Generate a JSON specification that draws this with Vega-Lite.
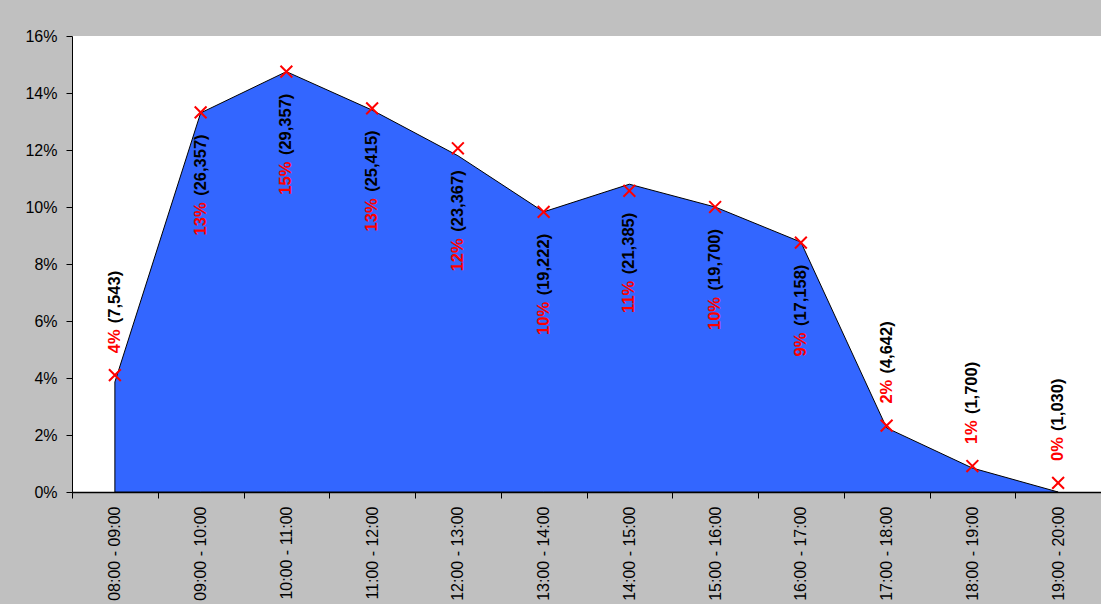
{
  "$schema": "https://vega.github.io/schema/vega-lite/v6.json",
  "width": 1029,
  "height": 456,
  "autosize": {"type": "none"},
  "padding": {"left": 72, "top": 36, "right": 0, "bottom": 112},
  "background": "#C0C0C0",
  "config": {
    "view": {"fill": "white", "stroke": null},
    "font": "Liberation Sans",
    "axis": {"labelFont": "Liberation Sans", "labelFontSize": 16, "labelColor": "black", "domainColor": "black", "tickColor": "black", "grid": false, "title": null}
  },
  "data": {
    "values": [
      {"slot": "08:00 - 09:00", "share": 0.0386, "marker": 0.0410, "pctLabel": "4%", "countLabel": "(7,543)", "side": "above"},
      {"slot": "09:00 - 10:00", "share": 0.1330, "marker": 0.1332, "pctLabel": "13%", "countLabel": "(26,357)", "side": "below"},
      {"slot": "10:00 - 11:00", "share": 0.1475, "marker": 0.1475, "pctLabel": "15%", "countLabel": "(29,357)", "side": "below"},
      {"slot": "11:00 - 12:00", "share": 0.1340, "marker": 0.1346, "pctLabel": "13%", "countLabel": "(25,415)", "side": "below"},
      {"slot": "12:00 - 13:00", "share": 0.1180, "marker": 0.1206, "pctLabel": "12%", "countLabel": "(23,367)", "side": "below"},
      {"slot": "13:00 - 14:00", "share": 0.0983, "marker": 0.0983, "pctLabel": "10%", "countLabel": "(19,222)", "side": "below"},
      {"slot": "14:00 - 15:00", "share": 0.1080, "marker": 0.1057, "pctLabel": "11%", "countLabel": "(21,385)", "side": "below"},
      {"slot": "15:00 - 16:00", "share": 0.1000, "marker": 0.1000, "pctLabel": "10%", "countLabel": "(19,700)", "side": "below"},
      {"slot": "16:00 - 17:00", "share": 0.0877, "marker": 0.0875, "pctLabel": "9%", "countLabel": "(17,158)", "side": "below"},
      {"slot": "17:00 - 18:00", "share": 0.0225, "marker": 0.0233, "pctLabel": "2%", "countLabel": "(4,642)", "side": "above"},
      {"slot": "18:00 - 19:00", "share": 0.0084, "marker": 0.0091, "pctLabel": "1%", "countLabel": "(1,700)", "side": "above"},
      {"slot": "19:00 - 20:00", "share": 0.0, "marker": 0.0032, "pctLabel": "0%", "countLabel": "(1,030)", "side": "above"}
    ]
  },
  "encoding": {
    "x": {"field": "slot", "type": "nominal", "sort": null,
      "scale": {"type": "band", "paddingInner": 0, "paddingOuter": 0},
      "axis": {"orient": "bottom", "labelAngle": 270, "ticks": true, "tickSize": 6, "tickBand": "extent", "labelPadding": 8, "domain": true, "domainWidth": 1.5}}
  },
  "layer": [
    {
      "mark": {"type": "area", "color": "#3366FF", "stroke": "black", "strokeWidth": 1, "opacity": 1},
      "encoding": {
        "y": {"field": "share", "type": "quantitative",
          "scale": {"domain": [0, 0.16]},
          "axis": {"orient": "left", "values": [0, 0.02, 0.04, 0.06, 0.08, 0.1, 0.12, 0.14, 0.16], "format": ".0%", "ticks": true, "tickSize": 6, "labelPadding": 9, "domain": true, "domainWidth": 1}}
      }
    },
    {
      "mark": {"type": "point", "shape": "M-1,-1L1,1M1,-1L-1,1", "filled": false, "stroke": "#FF0000", "strokeWidth": 2, "size": 140, "opacity": 1},
      "encoding": {
        "y": {"field": "marker", "type": "quantitative"}
      }
    },
    {
      "transform": [{"filter": "datum.side === 'above'"}],
      "mark": {"type": "text", "angle": 270, "align": "left", "baseline": "middle", "dx": 22, "fontSize": 16.5, "fontWeight": "bold", "color": "#FF0000"},
      "encoding": {
        "y": {"field": "marker", "type": "quantitative"},
        "text": {"field": "pctLabel"}
      }
    },
    {
      "transform": [{"filter": "datum.side === 'above'"}],
      "mark": {"type": "text", "angle": 270, "align": "left", "baseline": "middle", "dx": 52, "fontSize": 16.5, "fontWeight": "bold", "color": "black"},
      "encoding": {
        "y": {"field": "marker", "type": "quantitative"},
        "text": {"field": "countLabel"}
      }
    },
    {
      "transform": [{"filter": "datum.side === 'below'"}],
      "mark": {"type": "text", "angle": 270, "align": "right", "baseline": "middle", "dx": -22, "fontSize": 16.5, "fontWeight": "bold", "color": "black"},
      "encoding": {
        "y": {"field": "marker", "type": "quantitative"},
        "text": {"field": "countLabel"}
      }
    },
    {
      "transform": [{"filter": "datum.side === 'below'"}],
      "mark": {"type": "text", "angle": 270, "align": "right", "baseline": "middle", "dx": -90, "fontSize": 16.5, "fontWeight": "bold", "color": "#FF0000"},
      "encoding": {
        "y": {"field": "marker", "type": "quantitative"},
        "text": {"field": "pctLabel"}
      }
    }
  ]
}
